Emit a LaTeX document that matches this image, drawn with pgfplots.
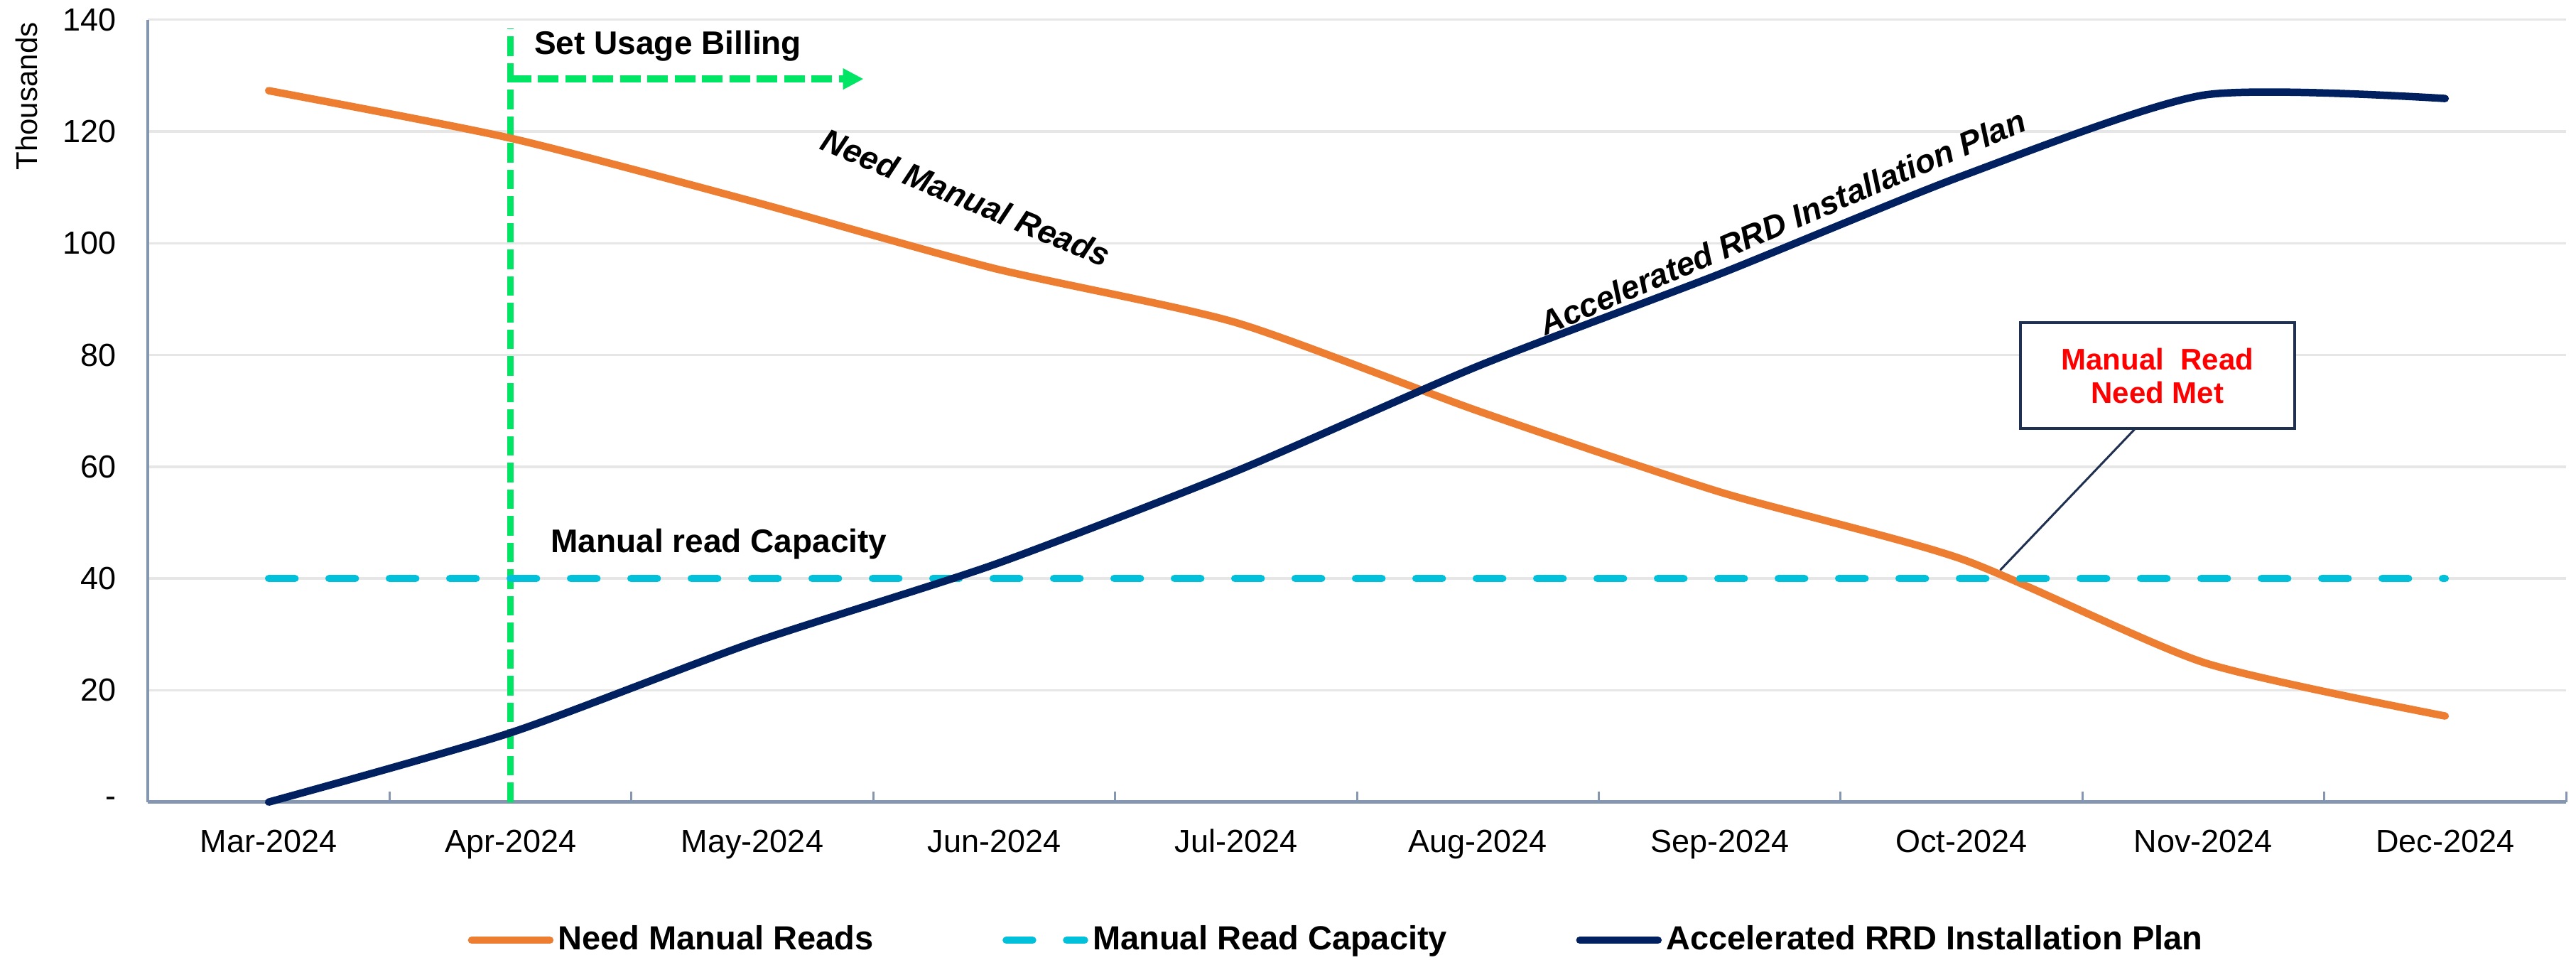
\documentclass[border=0pt]{standalone}
\usepackage{fontspec}
\setmainfont{Liberation Sans}
\usepackage{pgfplots}
\usepackage{pgfplotstable}
\pgfplotsset{compat=1.18}
\usetikzlibrary{arrows.meta}
\definecolor{cOrange}{HTML}{ED7D31}
\definecolor{cNavy}{HTML}{002060}
\definecolor{cCyan}{HTML}{00C0DA}
\definecolor{cGreen}{HTML}{00E564}
\definecolor{cAxis}{HTML}{8496B0}
\definecolor{cGrid}{HTML}{E6E6E6}
\definecolor{cBox}{HTML}{1F3050}
\pgfplotstableread{
x need cap rrd
0 127.3 40 0
1 118.8 40 12.4
2 107.5 40 28.5
3 95.5 40 42.5
4 85.8 40 59.2
5 70.0 40 78.0
6 55.5 40 94.5
7 43.5 40 112.0
8 25.0 40 126.5
9 15.4 40 125.9
}\datatab
\pgfplotstableread{
x y
1 0
1 138.4
}\greenv
\pgfplotstableread{
x y
1 129.4
2.46 129.4
}\greenh
\begin{document}
\begin{tikzpicture}
\begin{axis}[
  scale only axis, width=680.8pt, height=220.2pt,
  xmin=-0.5, xmax=9.5, ymin=0, ymax=140,
  axis x line*=bottom, axis y line*=left,
  x axis line style={color=cAxis, line width=1pt},
  y axis line style={color=cAxis, line width=0.7pt},
  xtick={0,...,9},
  xticklabels={Mar-2024,Apr-2024,May-2024,Jun-2024,Jul-2024,Aug-2024,Sep-2024,Oct-2024,Nov-2024,Dec-2024},
  minor xtick={-0.5,0.5,...,9.5},
  major tick length=0pt, minor tick length=3pt, tick align=inside,
  tick style={color=cAxis, line width=0.6pt},
  ytick={0,20,...,140},
  yticklabels={{-\hspace{4.3pt}},20,40,60,80,100,120,140},
  ymajorgrids, grid style={color=cGrid, line width=0.7pt},
  tick label style={font=\fontsize{9}{10}\selectfont, color=black},
  xticklabel style={yshift=-4pt, text height=6.6pt, text depth=1.9pt},
  yticklabel style={xshift=-5.4pt},
  clip=false,
  legend style={at={(0.492,-0.1766)}, anchor=center, draw=none, fill=none,
    legend columns=3, font=\fontsize{9.4}{11}\selectfont\bfseries,
    nodes={inner xsep=1.3pt},
    /tikz/every even column/.append style={column sep=35pt}},
  legend image code/.code={\draw[#1] (0pt,0pt) -- (22pt,0pt);},
]
\addplot[cGreen, line width=1.9pt, dash pattern=on 5.5pt off 2pt, forget plot] table[x=x,y=y]{\greenv};
\addplot[cGreen, line width=1.9pt, dash pattern=on 5.8pt off 1.9pt, -{Triangle[length=5.8pt,width=5.6pt]}, forget plot] table[x=x,y=y]{\greenh};
\addplot[cOrange, line width=2.1pt, smooth, tension=0.4, line cap=round] table[x=x,y=need]{\datatab};
\addlegendentry{Need Manual Reads}
\addplot[cCyan, line width=2.1pt, line cap=round, dash pattern=on 7.4pt off 9.6pt] table[x=x,y=cap]{\datatab};
\addlegendentry{Manual Read Capacity}
\addplot[cNavy, line width=2.1pt, smooth, tension=0.4, line cap=round] table[x=x,y=rrd]{\datatab};
\addlegendentry{Accelerated RRD Installation Plan}
% annotations
\node[anchor=west, inner sep=0pt, font=\fontsize{9.2}{11}\selectfont\bfseries] at (axis cs:1.096,135.3) {Set Usage Billing};
\node[anchor=west, inner sep=0pt, font=\fontsize{9.2}{11}\selectfont\bfseries] at (axis cs:1.164,46.2) {Manual read Capacity};
\node[rotate=-22.5, inner sep=0pt, font=\fontsize{9.2}{11}\selectfont\bfseries\itshape] at (axis cs:2.883,108.2) {Need Manual Reads};
\node[rotate=23.1, inner sep=0pt, font=\fontsize{9.2}{11}\selectfont\bfseries\itshape] at (axis cs:6.26,103.8) {Accelerated RRD Installation Plan};
\draw[cBox, line width=0.6pt] (axis cs:7.72,66.9) -- (axis cs:7.16,41.5);
\draw[cBox, line width=0.8pt, fill=white] (axis cs:7.245,85.8) rectangle (axis cs:8.379,66.9);
\node[align=center, text=red, inner sep=0pt, font=\fontsize{8.4}{9.4}\selectfont\bfseries] at (axis cs:7.81,76.3) {Manual\ \ Read\\Need Met};
\node[rotate=90, inner sep=0pt, font=\fontsize{8.4}{10}\selectfont] at (axis cs:-1.002,126.3) {Thousands};
\end{axis}
\pgfresetboundingbox
\path[use as bounding box] ([xshift=-41.6pt,yshift=-44.4pt]current axis.south west) rectangle ([xshift=2.8pt,yshift=5.55pt]current axis.north east);
\end{tikzpicture}
\end{document}
